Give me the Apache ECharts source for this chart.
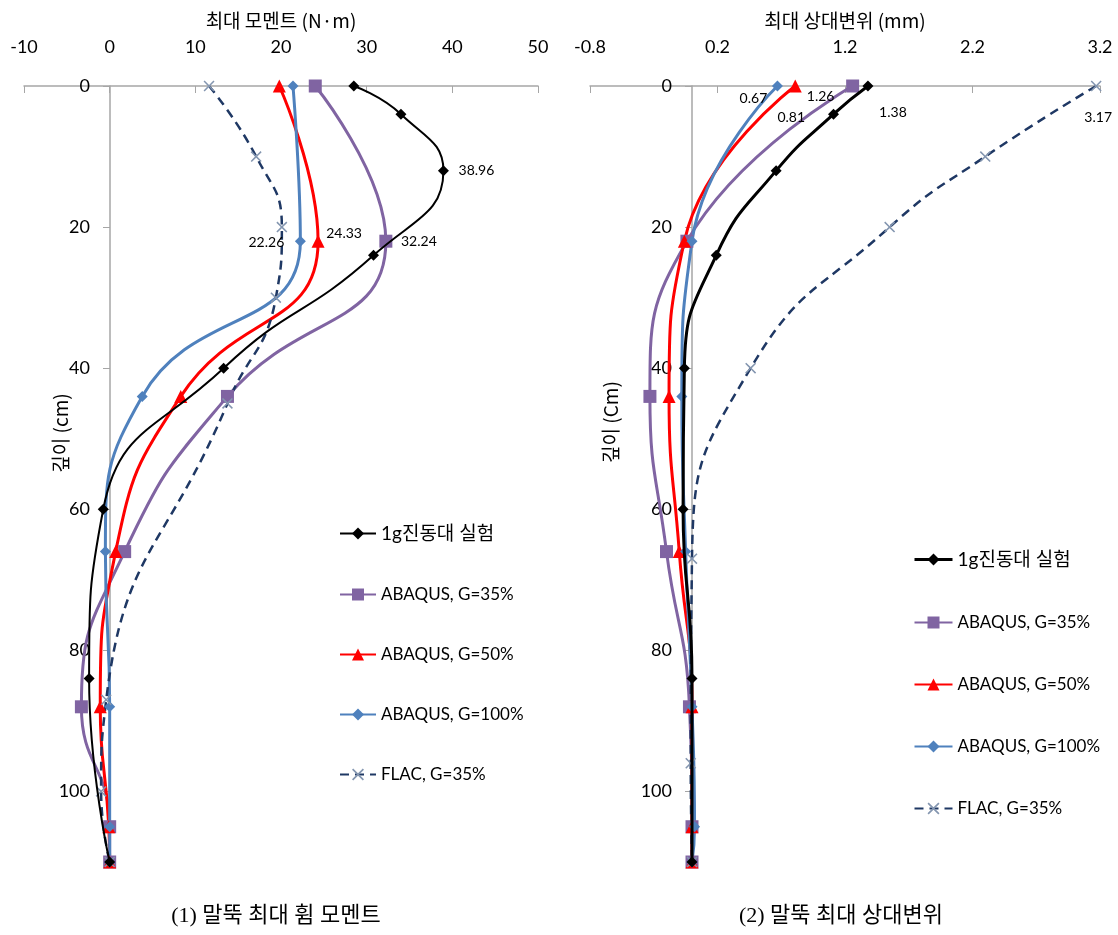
<!DOCTYPE html>
<html>
<head>
<meta charset="utf-8">
<script src="https://cdn.jsdelivr.net/npm/echarts@6/dist/echarts.min.js"></script>
<style>
html, body { margin: 0; padding: 0; background: #fff; }
#chart { width: 1118px; height: 935px; }
</style>
</head>
<body>
<div id="chart"></div>
<script>
// depths (cm) of the points in each series
const depthExp = [0, 4, 12, 24, 40, 60, 84, 110]
const depthAbaqus = [0, 22, 44, 66, 88, 105, 110]
const depthFlacM = [0, 10, 20, 30, 45, 87, 100, 110]
const depthFlacD = [0, 10, 20, 40, 67, 96, 110]

// (1) max bending moment (N·m)
const momentExp = [28.5, 34.0, 38.96, 30.8, 13.3, -0.75, -2.4, 0]
const momentG35 = [24.0, 32.24, 13.75, 1.75, -3.3, 0, 0]
const momentG50 = [19.8, 24.33, 8.3, 0.7, -1.1, -0.1, 0]
const momentG100 = [21.4, 22.26, 3.8, -0.5, 0, 0, 0]
const momentFlac = [11.6, 17.1, 20.1, 19.4, 13.75, -0.4, -1.0, 0]

// (2) max relative displacement (mm)
const dispExp = [1.38, 1.11, 0.66, 0.19, -0.06, -0.07, 0, 0]
const dispG35 = [1.26, -0.04, -0.33, -0.2, -0.02, 0, 0]
const dispG50 = [0.81, -0.06, -0.18, -0.1, 0, 0, 0]
const dispG100 = [0.67, 0, -0.08, -0.05, 0, 0.02, 0]
const dispFlac = [3.17, 2.30, 1.55, 0.46, 0, -0.01, 0]

const seriesNames = ['1g진동대 실험', 'ABAQUS, G=35%', 'ABAQUS, G=50%', 'ABAQUS, G=100%', 'FLAC, G=35%']
const momentTicks = [-10, 0, 10, 20, 30, 40, 50]
const dispTicks = [-0.8, 0.2, 1.2, 2.2, 3.2]
const depthTicks = [0, 20, 40, 60, 80, 100]

const numFont = 'Lato, "Noto Sans CJK KR", sans-serif'
const krFont = '"Noto Sans CJK KR", sans-serif'
const crossPath = 'path://M0,1L1,0L5,4L9,0L10,1L6,5L10,9L9,10L5,6L1,10L0,9L4,5Z'

const styles = [
  { color: '#000000', symbol: 'diamond', size: 11, width: 2 },
  { color: '#8064A2', symbol: 'rect', size: 13, width: 3 },
  { color: '#FF0000', symbol: 'triangle', size: 13, width: 3 },
  { color: '#4F81BD', symbol: 'diamond', size: 11, width: 3 },
  { color: '#1F3864', symbol: crossPath, size: 11, width: 2.5, dash: [9, 6], marker: '#8496B0' }
]

// build points, attaching a value label to one point if asked
function toData(xs, ys, labelIdx, offset) {
  return xs.map((x, i) => {
    const item = { value: [x, ys[i]] }
    if (i === labelIdx) {
      item.label = {
        show: true, position: 'inside', offset: offset,
        formatter: p => p.value[0], color: '#000', fontSize: 14, fontFamily: numFont
      }
    }
    return item
  })
}

function makeSeries(idx, grid, data, lineWidth) {
  const s = styles[idx]
  return {
    name: seriesNames[idx],
    type: 'line',
    xAxisIndex: grid,
    yAxisIndex: grid,
    smooth: 0.5,
    symbol: s.symbol,
    symbolSize: s.size,
    data: data,
    itemStyle: { color: s.marker || s.color },
    lineStyle: { color: s.color, width: lineWidth || s.width, type: s.dash || 'solid' },
    emphasis: { disabled: true },
    z: idx === 0 ? 3 : 2
  }
}

function xAxisOf(grid, min, max, ticks, name, fmt) {
  return {
    type: 'value', gridIndex: grid, position: 'top', min: min, max: max,
    name: name, nameLocation: 'middle', nameGap: 56,
    nameTextStyle: { fontSize: 19, color: '#000', fontFamily: krFont },
    axisLine: { onZero: false, lineStyle: { color: '#A6A6A6', width: 1.5 } },
    axisTick: { show: true, inside: true, length: 7, customValues: ticks, lineStyle: { color: '#A6A6A6' } },
    axisLabel: { customValues: ticks, fontSize: 18, color: '#000', margin: 30, fontFamily: numFont, formatter: fmt },
    splitLine: { show: false }
  }
}

// y axis is shifted right onto the x = 0 line of its grid
function yAxisOf(grid, shift) {
  return {
    type: 'value', gridIndex: grid, inverse: true, min: 0, max: 110, offset: -shift,
    axisLine: { onZero: false, lineStyle: { color: '#A6A6A6', width: 1.5 } },
    axisTick: { show: true, length: 7, customValues: depthTicks, lineStyle: { color: '#A6A6A6' } },
    axisLabel: { customValues: depthTicks, fontSize: 18, color: '#000', margin: 20, fontFamily: numFont },
    splitLine: { show: false }
  }
}

function sideText(text, x, y, rotate, font) {
  return {
    type: 'text', x: x, y: y, rotation: rotate ? Math.PI / 2 : 0,
    style: { text: text, font: font, fill: '#000', align: 'center', verticalAlign: 'middle' }
  }
}

const legendLeft = seriesNames.map((n, i) => i === 0 ? { name: n, textStyle: { fontSize: 19 } } : { name: n })
const legendRight = seriesNames.map((n, i) => i === 0 ? { name: n, textStyle: { fontSize: 19 }, lineStyle: { width: 3 } } : { name: n })

const chart = echarts.init(document.getElementById('chart'))
chart.setOption({
  animation: false,
  backgroundColor: '#fff',
  grid: [
    { left: 24, right: 580, top: 86, bottom: 73, outerBoundsMode: 'none' },
    { left: 590, right: 18, top: 86, bottom: 73, outerBoundsMode: 'none' }
  ],
  xAxis: [
    xAxisOf(0, -10, 50, momentTicks, '최대 모멘트 (N·m)'),
    xAxisOf(1, -0.8, 3.2, dispTicks, '최대 상대변위 (mm)', v => v.toFixed(1))
  ],
  yAxis: [yAxisOf(0, 86), yAxisOf(1, 102)],
  legend: [
    {
      orient: 'vertical', left: 334, top: 519, itemGap: 43, itemWidth: 36, itemHeight: 15,
      data: legendLeft, selectedMode: false,
      textStyle: { fontSize: 17, color: '#000', fontFamily: numFont }
    },
    {
      orient: 'vertical', left: 908, top: 545, itemGap: 45, itemWidth: 38, itemHeight: 15,
      data: legendRight, selectedMode: false,
      textStyle: { fontSize: 17, color: '#000', fontFamily: numFont }
    }
  ],
  graphic: [
    sideText('깊이 (cm)', 61, 433, true, '19px "Noto Sans CJK KR"'),
    sideText('깊이 (Cm)', 611, 422, true, '19px "Noto Sans CJK KR"'),
    sideText('(1) 말뚝 최대 휨 모멘트', 276, 916, false, '22px "Liberation Serif", "Noto Sans CJK KR"'),
    sideText('(2) 말뚝 최대 상대변위', 841, 916, false, '22px "Liberation Serif", "Noto Sans CJK KR"')
  ],
  series: [
    makeSeries(0, 0, toData(momentExp, depthExp, 2, [33, 0])),
    makeSeries(1, 0, toData(momentG35, depthAbaqus, 1, [33, 0])),
    makeSeries(2, 0, toData(momentG50, depthAbaqus, 1, [26, -8])),
    makeSeries(3, 0, toData(momentG100, depthAbaqus, 1, [-34, 1])),
    makeSeries(4, 0, toData(momentFlac, depthFlacM, -1)),
    makeSeries(0, 1, toData(dispExp, depthExp, 0, [25, 26]), 3),
    makeSeries(1, 1, toData(dispG35, depthAbaqus, 0, [-32, 10])),
    makeSeries(2, 1, toData(dispG50, depthAbaqus, 0, [-4, 31])),
    makeSeries(3, 1, toData(dispG100, depthAbaqus, 0, [-24, 12])),
    makeSeries(4, 1, toData(dispFlac, depthFlacD, 0, [2, 31]))
  ]
})
</script>
</body>
</html>
